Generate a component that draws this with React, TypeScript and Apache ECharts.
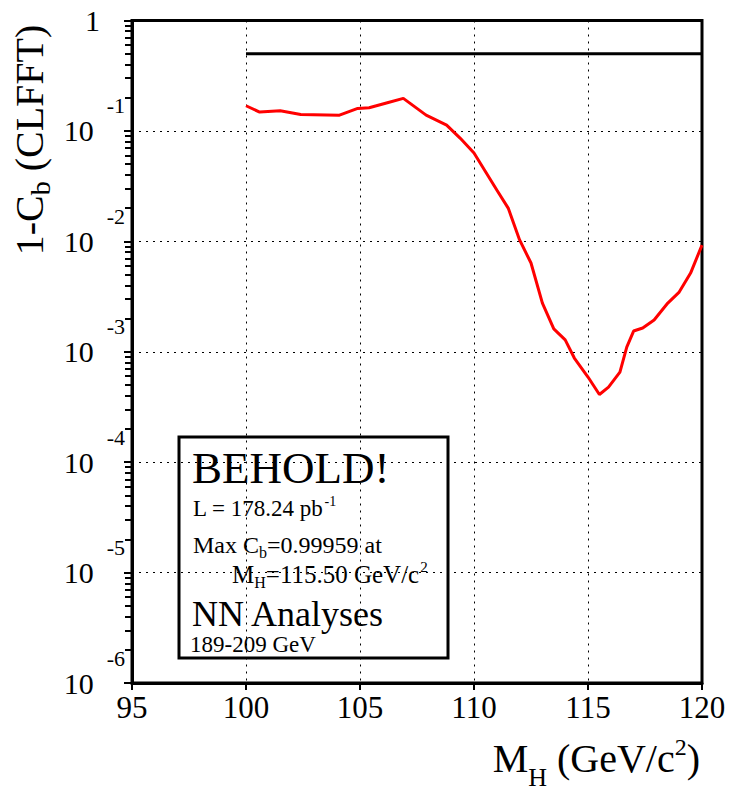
import React, { useEffect, useRef } from 'react';
import * as echarts from 'echarts';

// Higgs mass hypothesis (GeV/c^2)
const MASS = [100.0, 100.6, 101.5, 102.4, 104.1, 104.9, 105.4, 106.2, 106.9, 107.9, 108.8, 109.4, 110.0, 111.0, 111.5, 112.0, 112.5, 113.0, 113.5, 114.0, 114.4, 115.0, 115.5, 115.9, 116.4, 116.7, 117.0, 117.4, 117.9, 118.5, 119.0, 119.5, 120.0];
// 1 - C_b
const ONE_MINUS_CB = [0.169, 0.148, 0.152, 0.141, 0.139, 0.160, 0.162, 0.180, 0.197, 0.139, 0.113, 0.0857, 0.0631, 0.0292, 0.0200, 0.0103, 0.00636, 0.00276, 0.00161, 0.00128, 0.000877, 0.000590, 0.00041, 0.000479, 0.000655, 0.00110, 0.00154, 0.00164, 0.00194, 0.00276, 0.00347, 0.00516, 0.00925];
// reference 50% line
const REF_X = [100, 120];
const REF_Y = [0.5, 0.5];

const X_MIN = 95;
const X_MAX = 120;
const X_STEP = 5;
const Y_MIN = 1e-6;
const Y_MAX = 1;

const MINOR_MULT = [2, 3, 4, 5, 6, 7, 8, 9];
const DECADES = [-6, -5, -4, -3, -2, -1];

const FONT = '"Liberation Serif", "Times New Roman", serif';

export default function App() {
  const ref = useRef<HTMLDivElement>(null);
  useEffect(() => {
    if (!ref.current) return;
    const chart = echarts.init(ref.current, null, { renderer: 'svg' });

    const minorTickLines: any[] = [];
    DECADES.forEach((d) =>
      MINOR_MULT.forEach((m) => {
        const v = m * Math.pow(10, d);
        minorTickLines.push({ coords: [[0, v], [1, v]] });
      })
    );

    const curve = MASS.map((m, i) => [m, ONE_MINUS_CB[i]]);
    const refLine = REF_X.map((x, i) => [x, REF_Y[i]]);

    const option: any = {
      animation: false,
      backgroundColor: '#fff',
      grid: [
        {
          left: 132,
          top: 20.5,
          right: 28,
          bottom: 111,
          show: true,
          borderColor: '#000',
          borderWidth: 3,
          backgroundColor: 'transparent',
        },
        {
          left: 125,
          top: 20.5,
          width: 6,
          bottom: 111,
          show: false,
        },
      ],
      xAxis: [
        {
          type: 'value',
          gridIndex: 0,
          min: X_MIN,
          max: X_MAX,
          interval: X_STEP,
          axisLine: { show: true, lineStyle: { color: '#000', width: 3 } },
          axisTick: { show: true, inside: false, length: 7, lineStyle: { color: '#000', width: 2 } },
          axisLabel: {
            show: true,
            margin: 9,
            color: '#000',
            fontSize: 31,
            fontFamily: FONT,
            showMinLabel: true,
            showMaxLabel: true,
          },
          splitLine: { show: true, lineStyle: { color: '#000', width: 1, type: [2, 5] } },
        },
        {
          type: 'value',
          gridIndex: 1,
          min: 0,
          max: 1,
          show: false,
        },
      ],
      yAxis: [
        {
          type: 'log',
          gridIndex: 0,
          logBase: 10,
          min: Y_MIN,
          max: Y_MAX,
          axisLine: { show: true, lineStyle: { color: '#000', width: 3 } },
          axisTick: { show: true, inside: false, length: 8, lineStyle: { color: '#000', width: 2 } },
          minorTick: { show: false },
          axisLabel: {
            show: true,
            margin: 7,
            color: '#000',
            showMinLabel: true,
            showMaxLabel: true,
            formatter: (v: number) => {
              const e = Math.round(Math.log10(v));
              if (e === 0) return '{one|1}';
              return '{b|10}{e|' + e + '}';
            },
            rich: {
              one: { fontSize: 30, fontFamily: FONT, color: '#000', padding: [0, 25, 0, 0] },
              b: { fontSize: 30, fontFamily: FONT, color: '#000' },
              e: { fontSize: 22, fontFamily: FONT, color: '#000', padding: [0, 0, 50, 13] },
            },
          },
          splitLine: { show: true, lineStyle: { color: '#000', width: 1, type: [2, 5] } },
        },
        {
          type: 'log',
          gridIndex: 1,
          logBase: 10,
          min: Y_MIN,
          max: Y_MAX,
          show: false,
        },
      ],
      series: [
        {
          type: 'lines',
          coordinateSystem: 'cartesian2d',
          xAxisIndex: 1,
          yAxisIndex: 1,
          silent: true,
          data: minorTickLines,
          lineStyle: { color: '#000', width: 2, opacity: 1 },
          z: 5,
        },
        {
          type: 'line',
          xAxisIndex: 0,
          yAxisIndex: 0,
          data: refLine,
          showSymbol: false,
          symbol: 'none',
          lineStyle: { color: '#000', width: 3 },
          z: 3,
        },
        {
          type: 'line',
          xAxisIndex: 0,
          yAxisIndex: 0,
          data: curve,
          showSymbol: false,
          symbol: 'none',
          smooth: false,
          lineStyle: { color: '#ff0000', width: 3 },
          z: 4,
        },
      ],
      graphic: [
        {
          type: 'text',
          x: 29,
          y: 140,
          rotation: Math.PI / 2,
          style: {
            text: '{t|1-C}{s|b}{t| (CLFFT)}',
            align: 'center',
            verticalAlign: 'middle',
            rich: {
              t: { fontSize: 40, fontFamily: FONT, color: '#000' },
              s: { fontSize: 28, fontFamily: FONT, color: '#000', padding: [22, 0, 0, 0] },
            },
          },
        },
        {
          type: 'text',
          x: 700,
          y: 758,
          style: {
            text: '{t|M}{s|H}{t| (GeV/c}{p|2}{t|)}',
            align: 'right',
            verticalAlign: 'middle',
            rich: {
              t: { fontSize: 40, fontFamily: FONT, color: '#000' },
              s: { fontSize: 26, fontFamily: FONT, color: '#000', padding: [38, 0, 0, 0] },
              p: { fontSize: 24, fontFamily: FONT, color: '#000', padding: [0, 0, 22, 0] },
            },
          },
        },
        {
          type: 'group',
          z: 100,
          children: [
            {
              type: 'rect',
              shape: { x: 179, y: 437, width: 269, height: 221 },
              style: { fill: '#fff', stroke: '#000', lineWidth: 3 },
            },
            {
              type: 'text',
              x: 192,
              y: 468,
              style: { text: 'BEHOLD!', fontSize: 45, fontFamily: FONT, fill: '#000', align: 'left', verticalAlign: 'middle' },
            },
            {
              type: 'text',
              x: 193,
              y: 508,
              style: {
                text: '{a|L = 178.24 pb}{s|-1}',
                align: 'left',
                verticalAlign: 'middle',
                rich: {
                  a: { fontSize: 23, fontFamily: FONT, color: '#000' },
                  s: { fontSize: 14, fontFamily: FONT, color: '#000', padding: [0, 0, 14, 1] },
                },
              },
            },
            {
              type: 'text',
              x: 193,
              y: 545,
              style: {
                text: '{a|Max C}{b|b}{a|=0.99959 at}',
                align: 'left',
                verticalAlign: 'middle',
                rich: {
                  a: { fontSize: 24, fontFamily: FONT, color: '#000' },
                  b: { fontSize: 16, fontFamily: FONT, color: '#000', padding: [14, 0, 0, 0] },
                },
              },
            },
            {
              type: 'text',
              x: 232,
              y: 574,
              style: {
                text: '{a|M}{b|H}{a|=115.50 GeV/c}{p|2}',
                align: 'left',
                verticalAlign: 'middle',
                rich: {
                  a: { fontSize: 25, fontFamily: FONT, color: '#000' },
                  b: { fontSize: 16, fontFamily: FONT, color: '#000', padding: [16, 0, 0, 0] },
                  p: { fontSize: 15, fontFamily: FONT, color: '#000', padding: [0, 0, 14, 1] },
                },
              },
            },
            {
              type: 'text',
              x: 192,
              y: 614,
              style: { text: 'NN Analyses', fontSize: 36, fontFamily: FONT, fill: '#000', align: 'left', verticalAlign: 'middle' },
            },
            {
              type: 'text',
              x: 190,
              y: 644,
              style: { text: '189-209 GeV', fontSize: 23, fontFamily: FONT, fill: '#000', align: 'left', verticalAlign: 'middle' },
            },
          ],
        },
      ],
    };
    chart.setOption(option);
    return () => chart.dispose();
  }, []);
  return <div ref={ref} style={{ position: 'absolute', left: 0, top: 0, width: 730, height: 794, background: '#fff' }} />;
}
